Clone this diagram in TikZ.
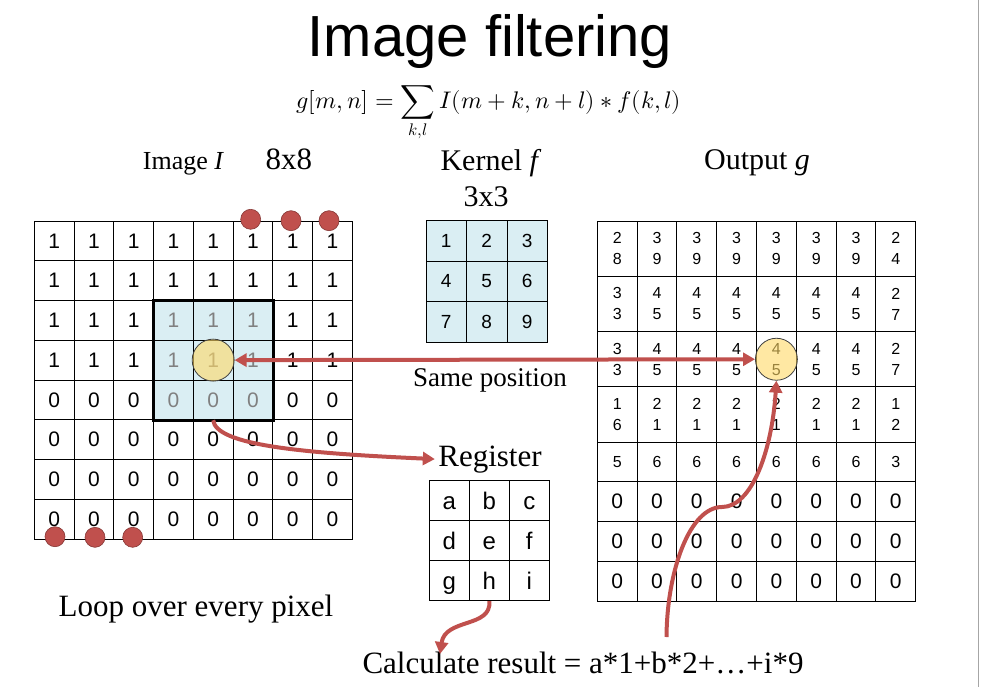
\documentclass[tikz,border=0pt]{standalone}
\usepackage{fontspec}
\usepackage{unicode-math}
\setmainfont{Liberation Serif}
\setmathfont{Latin Modern Math}
\newfontfamily\arialfont{Liberation Sans}
\usetikzlibrary{arrows.meta}

\definecolor{slidered}{HTML}{C0504D}
\definecolor{paleblue}{HTML}{DAEEF3}
\definecolor{spotyellow}{HTML}{FFD966}

\begin{document}
\begin{tikzpicture}[
    x = 1pt, y = -1pt,
    > = {Triangle[length = 12pt, width = 13pt]},
    cell/.style = {draw,
      line width = 0.9pt, inner sep = 0pt,
      minimum width = 39.8pt, minimum height = 39.7pt,
      font = \arialfont\fontsize{21}{21}\selectfont},
    small/.style = {font = \arialfont\fontsize{16}{21}\selectfont,
      align = center},
    tall/.style = {minimum height = 55.3pt},
    kernelcell/.style = {fill = paleblue,
      minimum size = 40.5pt,
      font = \arialfont\fontsize{19}{19}\selectfont},
    regcell/.style = {minimum size = 40pt,
      text height = 18pt, text depth = 0pt,
      font = \arialfont\fontsize{24}{24}\selectfont},
    win0/.style = {},
    win1/.style = {fill = paleblue, text = black!50},
    caption/.style = {anchor = base,
      font = \fontsize{30}{36}\selectfont},
    dot/.style = {circle, fill = slidered,
      draw = slidered!70!black, line width = 0.6pt,
      minimum size = 20pt, inner sep = 0pt},
    spot/.style = {circle, draw = black!75, line width = 0.8pt,
      fill = spotyellow, fill opacity = 0.6,
      minimum size = 42pt, inner sep = 0pt},
    flow/.style = {draw = slidered, line width = 4pt},
    ]

    \useasboundingbox (0, 0) rectangle (981, 687);
    \draw [black!35, line width = 1pt] (978.5, 0) -- (978.5, 687);

    \node at (490, 57)
    [anchor = base, font = \arialfont\fontsize{58}{60}\selectfont,
      name = title] {Image filtering};

    \node at (489, 109)
    [anchor = base, font = \fontsize{24}{28}\selectfont, name = formula]
    {$\displaystyle g[m,n] = \sum_{k,l} I(m+k,n+l) * f(k,l)$};

    \node at (142.7, 169.5)
    [caption, anchor = base west, inner xsep = 0pt,
      font = \fontsize{26}{30}\selectfont, name = imgtitle]
    {Image \textit{I}\hspace{1.6em}{\fontsize{31}{36}\selectfont 8x8}};
    \node at (491, 171) [caption, name = kerneltitle] {Kernel \textit{f}};
    \node at (486, 206.7) [caption, name = kernelsize] {3x3};
    \node at (757, 170) [caption, name = outtitle] {Output \textit{g}};

    % input image
    \foreach \r in {1, ..., 8}
    \foreach \c in {1, ..., 8} {
      \pgfmathtruncatemacro\inwin{(\r > 2)*(\r < 6)*(\c > 3)*(\c < 7)}
      \node at ({34.3 + 39.75*(\c - 0.5)}, {221 + 39.75*(\r - 0.5)})
      [cell, win\inwin, minimum size = 39.75pt, name = im-\r-\c]
      {\ifnum\r<5 1\else 0\fi};
    }
    \draw [line width = 3pt] (im-3-4.north west) rectangle (im-5-6.south east);
    \node at (im-4-5) [spot, name = imspot] {};

    \node at (250.7, 219.3) [dot, name = dot1] {};
    \node at (291, 220.7) [dot, name = dot2] {};
    \node at (329, 220.7) [dot, name = dot3] {};
    \node at (55, 536.7) [dot, name = dot4] {};
    \node at (95, 537.3) [dot, name = dot5] {};
    \node at (132.7, 537.3) [dot, name = dot6] {};

    % kernel
    \foreach \r in {1, 2, 3}
    \foreach \c in {1, 2, 3} {
      \pgfmathtruncatemacro\v{3*(\r - 1) + \c}
      \node at ({426 + 40.5*(\c - 0.5)}, {220.7 + 40.5*(\r - 0.5)})
      [cell, kernelcell, name = kn-\r-\c] {\v};
    }

    \node at (490, 386.7)
    [caption, font = \fontsize{27}{32}\selectfont, name = same]
    {Same position};

    % register
    \node at (490, 466) [caption, font = \fontsize{31}{36}\selectfont,
      name = register] {Register};
    \foreach \l [count = \i from 0] in {a, b, c, d, e, f, g, h, i} {
      \pgfmathtruncatemacro\r{div(\i, 3) + 1}
      \pgfmathtruncatemacro\c{mod(\i, 3) + 1}
      \node at ({429.3 + 40*(\c - 0.5)}, {480.7 + 40*(\r - 0.5)})
      [cell, regcell, name = rg-\r-\c] {\l};
    }

    % output
    \foreach \t/\b [count = \c] in {2/8, 3/9, 3/9, 3/9, 3/9, 3/9, 3/9, 2/4}
    \node at ({597.3 + 39.8*(\c - 0.5)}, 248.65)
    [cell, small, tall, name = out-1-\c] {\t\\\b};
    \foreach \t/\b [count = \c] in {3/3, 4/5, 4/5, 4/5, 4/5, 4/5, 4/5, 2/7}
    \node at ({597.3 + 39.8*(\c - 0.5)}, 303.95)
    [cell, small, tall, name = out-2-\c] {\t\\\b};
    \foreach \t/\b [count = \c] in {3/3, 4/5, 4/5, 4/5, 4/5, 4/5, 4/5, 2/7}
    \node at ({597.3 + 39.8*(\c - 0.5)}, 359.25)
    [cell, small, tall, name = out-3-\c] {\t\\\b};
    \foreach \t/\b [count = \c] in {1/6, 2/1, 2/1, 2/1, 2/1, 2/1, 2/1, 1/2}
    \node at ({597.3 + 39.8*(\c - 0.5)}, 414.55)
    [cell, small, tall, name = out-4-\c] {\t\\\b};
    \foreach \v [count = \c] in {5, 6, 6, 6, 6, 6, 6, 3}
    \node at ({597.3 + 39.8*(\c - 0.5)}, 462.05)
    [cell, small, name = out-5-\c] {\v};
    \foreach \r in {6, 7, 8}
    \foreach \c in {1, ..., 8}
    \node at ({597.3 + 39.8*(\c - 0.5)}, {462.05 + 39.7*(\r - 5)})
    [cell, name = out-\r-\c] {0};
    \node at (out-3-5) [spot, name = outspot] {};

    \node at (196, 616) [caption, font = \fontsize{31}{36}\selectfont,
      name = loop] {Loop over every pixel};
    \node at (583, 673.3) [caption, font = \fontsize{31}{36}\selectfont,
      name = calc] {Calculate result = a*1+b*2+…+i*9};

    \coordinate (calcin) at (440, 654);
    \coordinate (calcout) at (666.5, 637);

    \draw [flow, <->] (imspot.east) -- (outspot.west);
    \draw [flow, ->] (im-5-5.south) .. controls (216, 445) and (300, 453)
    .. (register.west);
    \draw [flow, ->] (rg-3-2.south) .. controls (492, 628) and (445, 618)
    .. (calcin);
    \draw [flow, ->] (calcout) .. controls (667, 570) and (690, 507)
    .. (722, 507) .. controls (752, 507) and (772, 450) .. (outspot.south);
  \end{tikzpicture}
\end{document}
